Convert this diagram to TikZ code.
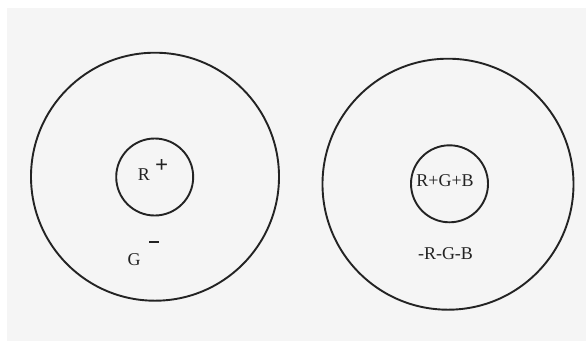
\documentclass[tikz,border=0pt]{standalone}
\usepackage{fontspec}
\setmainfont{Liberation Serif}
\definecolor{bgcol}{RGB}{245,245,245}
\definecolor{ink}{RGB}{35,35,35}
\begin{document}
\begin{tikzpicture}[x=1pt,y=-1pt,
  ring/.style={circle,draw=ink,line width=1.9pt,inner sep=0pt},
  lbl/.style={inner sep=0pt,text=ink,font=\fontsize{18}{21}\selectfont},
  sgn/.style={inner sep=0pt,text=ink,font=\fontsize{23}{25}\selectfont\bfseries}]
\useasboundingbox (0,0) rectangle (586,341);
\fill[white] (0,0) rectangle (586,341);
\fill[bgcol] (7,8) rectangle (586,341);
% left cell
\node[ring,minimum size=248pt] (LO) at (155,176.7) {};
\node[ring,minimum size=77pt] (LI) at (154.7,177) {};
\node[lbl] (R) at (144,175) {R};
\node[sgn] (Rp) at (161.7,166) {+};
\node[lbl] (G) at (134,260) {G};
\node[sgn] (Gm) at (154,241.7) {\rule{10pt}{2.4pt}};
% right cell
\node[ring,minimum size=251pt] (RO) at (448,184.2) {};
\node[ring,minimum size=77pt] (RI) at (449.5,183.8) {};
\node[lbl] (RGB) at (445,181) {R+G+B};
\node[lbl] (mRGB) at (445.5,254) {-R-G-B};
\end{tikzpicture}
\end{document}
